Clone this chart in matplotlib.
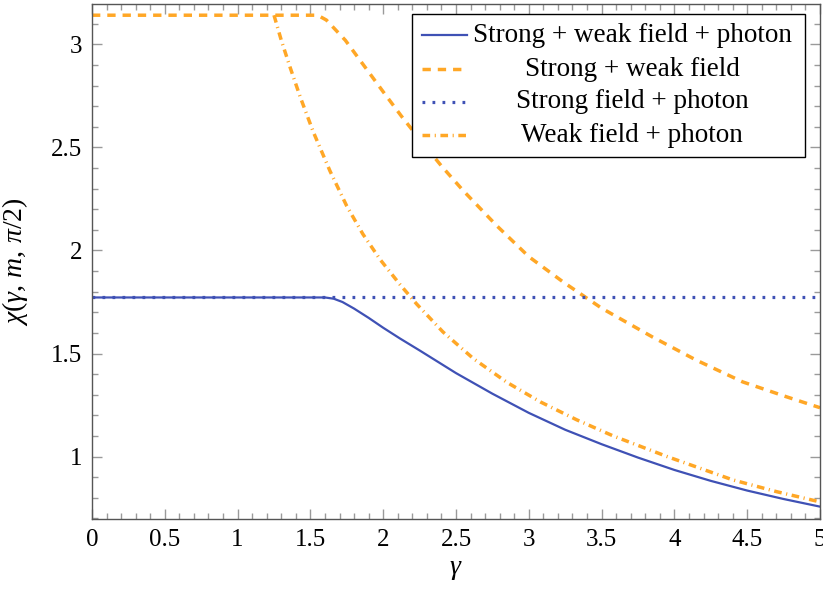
import matplotlib
matplotlib.use('Agg')
import matplotlib.pyplot as plt
from matplotlib.lines import Line2D
from matplotlib.patches import Rectangle
from matplotlib.ticker import MultipleLocator, FuncFormatter

plt.rcParams['font.family'] = ['Liberation Serif', 'DejaVu Serif']
plt.rcParams['mathtext.fontset'] = 'custom'
plt.rcParams['mathtext.rm'] = 'Liberation Serif'
plt.rcParams['mathtext.it'] = 'Liberation Serif:italic'
plt.rcParams['lines.scale_dashes'] = False

BLUE = '#3f51b5'
ORANGE = '#ffa726'

# values
gamma_full = [0.0, 1.0, 1.6, 1.66, 1.72, 1.8, 1.9, 2.0, 2.115, 2.25, 2.5, 2.75,
              3.0, 3.25, 3.5, 3.75, 4.0, 4.25, 4.5, 4.75, 5.0]
chi_full = [1.772, 1.772, 1.772, 1.766, 1.75, 1.718, 1.673, 1.625, 1.573, 1.515,
            1.405, 1.305, 1.212, 1.13, 1.06, 0.995, 0.935, 0.882, 0.835,
            0.794, 0.757]

gamma_sw = [0.0, 1.0, 1.55, 1.61, 1.74, 1.875, 2.0, 2.127, 2.25, 2.4, 2.55,
            2.78, 3.0, 3.24, 3.5, 3.85, 4.15, 4.47, 4.77, 5.0]
chi_sw = [3.1416, 3.1416, 3.1416, 3.118, 3.02, 2.89, 2.77, 2.65, 2.54, 2.41,
          2.29, 2.12, 1.97, 1.845, 1.72, 1.58, 1.468, 1.362, 1.29, 1.237]

gamma_sp = [0.0, 5.0]
chi_sp = [1.7725, 1.7725]

gamma_wp = [1.25, 1.3, 1.36, 1.43, 1.52, 1.635, 1.75, 1.86, 1.98, 2.115,
            2.23, 2.41, 2.62, 2.85, 3.08, 3.33, 3.58, 3.95, 4.4, 4.7, 5.0]
chi_wp = [3.1416, 3.02, 2.89, 2.745, 2.575, 2.385, 2.215, 2.08, 1.955, 1.835,
          1.74, 1.605, 1.475, 1.36, 1.265, 1.178, 1.10, 1.0, 0.887, 0.83, 0.78]

labels = ['Strong + weak field + photon', 'Strong + weak field',
          'Strong field + photon', 'Weak field + photon']

styles = [
    dict(color=BLUE, lw=1.6, linestyle='-'),
    dict(color=ORANGE, lw=2.5, linestyle=(0, (6.0, 5.0)), dash_capstyle='butt'),
    dict(color=BLUE, lw=2.3, linestyle=(0, (2.0, 5.2)), dash_capstyle='butt'),
    dict(color=ORANGE, lw=2.5, linestyle=(0, (5.5, 3.3, 0.8, 3.3)), dash_capstyle='butt'),
]

fig = plt.figure(figsize=(8.23, 5.89), dpi=100)
ax = fig.add_axes([92 / 823, 1 - 519 / 589, 728 / 823, 515 / 589])

series = [(gamma_full, chi_full), (gamma_sw, chi_sw),
          (gamma_sp, chi_sp), (gamma_wp, chi_wp)]
for (xs, ys), st in zip(series, styles):
    ax.plot(xs, ys, **st)

ax.set_xlim(0, 5)
ax.set_ylim(0.697, 3.196)

ax.xaxis.set_major_locator(MultipleLocator(0.5))
ax.xaxis.set_minor_locator(MultipleLocator(0.1))
ax.yaxis.set_major_locator(MultipleLocator(0.5))
ax.yaxis.set_minor_locator(MultipleLocator(0.1))
fmt = FuncFormatter(lambda v, p: '%g' % round(v, 3))
ax.xaxis.set_major_formatter(fmt)
ax.yaxis.set_major_formatter(fmt)

ax.tick_params(which='both', direction='in', top=True, right=True,
               color='#9a9a9a', width=1.0, labelsize=18)
ax.tick_params(which='major', length=7, pad=7)
ax.tick_params(which='minor', length=4.3)
for sp in ax.spines.values():
    sp.set_color('#555555')
    sp.set_linewidth(1.0)

ax.set_xlabel(r'$\gamma$', fontsize=20)
ax.set_ylabel(r'$\chi(\gamma,\, m,\, \pi/2)$', fontsize=20)
ax.xaxis.set_label_coords(0.5, -0.074)
ax.yaxis.set_label_coords(-0.085, 0.5)

# legend box, entries centred like pgfplots
x0, x1 = (412 - 92) / 728, (805 - 92) / 728
y0, y1 = (519 - 157) / 515, (519 - 14) / 515
ax.add_patch(Rectangle((x0, y0), x1 - x0, y1 - y0, transform=ax.transAxes,
                       facecolor='white', edgecolor='black', lw=1.0, zorder=5))
hx0, hx1 = (421.7 - 92) / 728, (466.7 - 92) / 728
tx = (632 - 92) / 728
rows = [35, 69, 102, 135]
for lab, st, ry in zip(labels, styles, rows):
    yy = (519 - ry) / 515
    ax.add_line(Line2D([hx0, hx1], [yy, yy], transform=ax.transAxes, zorder=6, **st))
    ax.text(tx, yy, lab, transform=ax.transAxes, ha='center', va='center',
            fontsize=19.5, zorder=6)

fig.savefig('out.png', dpi=100)
